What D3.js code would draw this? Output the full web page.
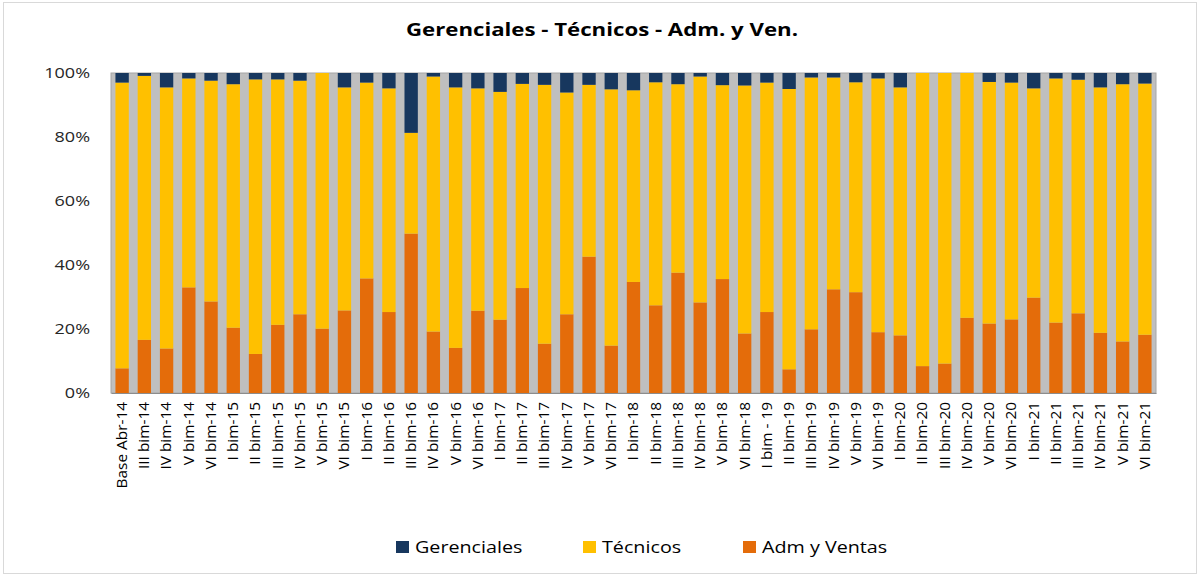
<!DOCTYPE html>
<html>
<head>
<meta charset="utf-8">
<script src="https://cdn.jsdelivr.net/npm/d3@7"></script>
<style>
  body { margin: 0; background: #fff; }
  text { font-family: "Open Sans", "DejaVu Sans", sans-serif; }
</style>
</head>
<body>
<svg id="chart" width="1200" height="575"></svg>
<script>
var categories = ["Base Abr-14", "III bim-14", "IV bim-14", "V bim-14", "VI bim-14",
    "I bim-15", "II bim-15", "III bim-15", "IV bim-15", "V bim-15", "VI bim-15",
    "I bim-16", "II bim-16", "III bim-16", "IV bim-16", "V bim-16", "VI bim-16",
    "I bim-17", "II bim-17", "III bim-17", "IV bim-17", "V bim-17", "VI bim-17",
    "I bim-18", "II bim-18", "III bim-18", "IV bim-18", "V bim-18", "VI bim-18",
    "I bim - 19", "II bim-19", "III bim-19", "IV bim-19", "V bim-19", "VI bim-19",
    "I bim-20", "II bim-20", "III bim-20", "IV bim-20", "V bim-20", "VI bim-20",
    "I bim-21", "II bim-21", "III bim-21", "IV bim-21", "V bim-21", "VI bim-21"];

// percentages per group
var admVentas = [7.7, 16.6, 13.9, 33.0, 28.6,
    20.4, 12.2, 21.3, 24.6, 20.1, 25.8,
    35.8, 25.3, 49.8, 19.2, 14.1, 25.7,
    22.9, 32.8, 15.4, 24.6, 42.6, 14.8,
    34.7, 27.4, 37.6, 28.3, 35.6, 18.6,
    25.3, 7.4, 19.9, 32.4, 31.5, 19.0,
    18.0, 8.4, 9.2, 23.5, 21.7, 23.0,
    29.8, 22.0, 24.9, 18.8, 16.1, 18.2];
var tecnicos = [89.3, 82.5, 81.6, 65.3, 69.0,
    76.1, 85.8, 76.7, 73.0, 79.9, 69.7,
    61.2, 69.9, 31.5, 79.7, 81.4, 69.5,
    71.2, 63.8, 80.9, 69.3, 53.7, 80.1,
    59.9, 69.7, 58.9, 70.6, 60.6, 77.5,
    71.7, 87.6, 78.7, 66.2, 65.6, 79.3,
    77.5, 91.6, 90.8, 76.5, 75.5, 74.0,
    65.4, 76.3, 73.0, 76.7, 80.4, 78.5];
var gerenciales = [3.0, 0.9, 4.5, 1.7, 2.4,
    3.5, 2.0, 2.0, 2.4, 0.0, 4.5,
    3.0, 4.8, 18.7, 1.1, 4.5, 4.8,
    5.9, 3.4, 3.7, 6.1, 3.7, 5.1,
    5.4, 2.9, 3.5, 1.1, 3.8, 3.9,
    3.0, 5.0, 1.4, 1.4, 2.9, 1.7,
    4.5, 0.0, 0.0, 0.0, 2.8, 3.0,
    4.8, 1.7, 2.1, 4.5, 3.5, 3.3];
var yTicks = [0, 20, 40, 60, 80, 100];

var seriesKeys = ["adm", "tec", "ger"];
var seriesNames = {ger: "Gerenciales", tec: "Técnicos", adm: "Adm y Ventas"};
var colors = {ger: "#17375e", tec: "#ffc000", adm: "#e46c0a"};

var rows = categories.map(function (c, i) {
    return {cat: c, adm: admVentas[i], tec: tecnicos[i], ger: gerenciales[i]};
});

var svg = d3.select("#chart");
var margin = {left: 111, right: 44, top: 73, bottom: 182};
var width = 1200 - margin.left - margin.right;
var height = 575 - margin.top - margin.bottom;

// outer chart frame
svg.append("rect")
    .attr("x", 3.5).attr("y", 2.5)
    .attr("width", 1193).attr("height", 571)
    .attr("fill", "none").attr("stroke", "#d9d9d9");

svg.append("text")
    .attr("x", 602).attr("y", 36)
    .attr("text-anchor", "middle")
    .attr("font-size", 18).attr("font-weight", "bold")
    .attr("fill", "#000")
    .attr("textLength", 392).attr("lengthAdjust", "spacingAndGlyphs")
    .text("Gerenciales - Técnicos - Adm. y Ven.");

var g = svg.append("g").attr("transform", "translate(" + margin.left + "," + margin.top + ")");

var x = d3.scaleBand().domain(categories).range([0, width]).paddingInner(0.4).paddingOuter(0.2);
var y = d3.scaleLinear().domain([0, 100]).range([height, 0]);

g.append("rect")
    .attr("width", width).attr("height", height)
    .attr("fill", "#bfbfbf").attr("stroke", "#a6a6a6");

var stacked = d3.stack().keys(seriesKeys)(rows);

g.selectAll("g.series").data(stacked).join("g")
    .attr("class", "series")
    .attr("fill", function (s) { return colors[s.key]; })
    .selectAll("rect").data(function (s) { return s; }).join("rect")
    .attr("x", function (d) { return x(d.data.cat); })
    .attr("y", function (d) { return y(Math.min(100, d[1])); })
    .attr("width", x.bandwidth())
    .attr("height", function (d) { return Math.max(0, y(d[0]) - y(Math.min(100, d[1]))); });

var yStretch = 1.2;
var yAxis = g.append("g")
    .call(d3.axisLeft(y).tickValues(yTicks).tickFormat(function (d) { return d + "%"; }).tickSize(0));
yAxis.select(".domain").remove();
yAxis.selectAll("text")
    .attr("font-size", 15).attr("fill", "#262626")
    .attr("font-family", "'Open Sans', sans-serif")
    .attr("x", -21 / yStretch)
    .attr("transform", "scale(" + yStretch + ",1)");

var xStretch = 1.1;
var xAxis = g.append("g")
    .attr("transform", "translate(0," + height + ")")
    .call(d3.axisBottom(x).tickSize(0));
xAxis.select(".domain").attr("stroke", "#8c8c8c");
xAxis.selectAll("text")
    .attr("font-size", 14).attr("fill", "#000")
    .attr("font-family", "'Open Sans', sans-serif")
    .attr("text-anchor", "end")
    .attr("transform", "rotate(-90) scale(" + xStretch + ",1)")
    .attr("x", -9 / xStretch).attr("y", 0).attr("dy", "0.35em");

var legendX = {ger: 396, tec: 583, adm: 743};
var legend = svg.append("g");
["ger", "tec", "adm"].forEach(function (k) {
    legend.append("rect")
        .attr("x", legendX[k]).attr("y", 541)
        .attr("width", 13).attr("height", 12)
        .attr("fill", colors[k]);
    legend.append("text")
        .attr("transform", "translate(" + (legendX[k] + 19) + ",553) scale(1.16,1)")
        .attr("font-size", 17).attr("fill", "#000")
        .text(seriesNames[k]);
});
</script>
</body>
</html>
